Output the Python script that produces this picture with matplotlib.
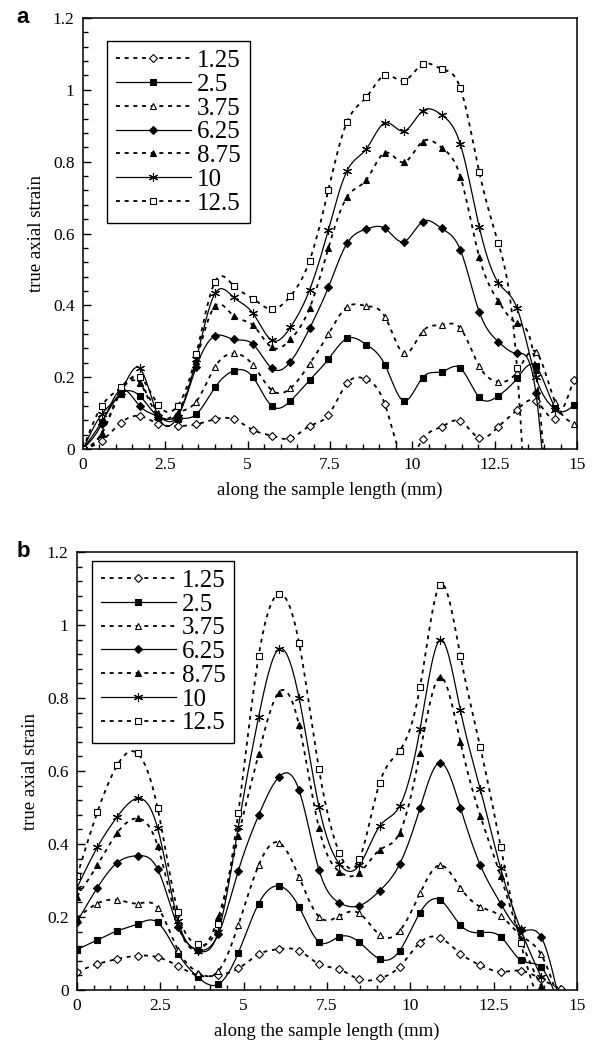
import numpy as np
import matplotlib
matplotlib.use("Agg")
import matplotlib.pyplot as plt
from matplotlib.ticker import MultipleLocator, FormatStrFormatter

plt.rcParams["font.family"] = ["Liberation Serif", "DejaVu Serif"]

labels = ["1.25", "2.5", "3.75", "6.25", "8.75", "10", "12.5"]

# panel a: position along the sample (mm)
x_a = [0.0, 0.57, 1.15, 1.72, 2.29, 2.87, 3.44, 4.01, 4.58, 5.16, 5.73, 6.30, 6.88, 7.45,
       8.02, 8.60, 9.17, 9.74, 10.31, 10.89, 11.46, 12.03, 12.61, 13.18, 13.75, 14.33, 14.90]

a_125 = [0.0, 0.023, 0.073, 0.092, 0.07, 0.064, 0.069, 0.083, 0.083, 0.053, 0.037, 0.03, 0.064, 0.095,
         0.183, 0.194, 0.124, -0.03, 0.027, 0.062, 0.078, 0.031, 0.062, 0.109, 0.134, 0.085, 0.192]
a_25 = [0.0, 0.076, 0.153, 0.148, 0.09, 0.085, 0.097, 0.172, 0.218, 0.2, 0.12, 0.134, 0.192, 0.25,
        0.308, 0.291, 0.234, 0.134, 0.199, 0.215, 0.225, 0.144, 0.148, 0.197, 0.231, 0.118, 0.122]
a_375 = [0.0, 0.045, 0.165, 0.185, 0.09, 0.1, 0.132, 0.229, 0.266, 0.234, 0.164, 0.169, 0.237, 0.32,
         0.396, 0.398, 0.368, 0.266, 0.327, 0.345, 0.336, 0.231, 0.187, 0.215, 0.271, 0.132, 0.071]
a_625 = [0.0, 0.07, 0.165, 0.12, 0.09, 0.09, 0.229, 0.315, 0.305, 0.292, 0.225, 0.243, 0.336, 0.45,
         0.573, 0.612, 0.614, 0.577, 0.633, 0.614, 0.554, 0.382, 0.299, 0.266, 0.157, -0.5]
a_875 = [0.0, 0.042, 0.16, 0.183, 0.1, 0.1, 0.245, 0.398, 0.37, 0.345, 0.283, 0.305, 0.392, 0.559,
         0.702, 0.749, 0.825, 0.798, 0.856, 0.839, 0.758, 0.535, 0.412, 0.35, 0.22, -0.5]
a_10 = [0.0, 0.097, 0.16, 0.225, 0.09, 0.09, 0.25, 0.433, 0.422, 0.378, 0.303, 0.339, 0.443, 0.61,
        0.775, 0.835, 0.908, 0.885, 0.941, 0.93, 0.848, 0.619, 0.463, 0.392, 0.2, 0.11]
a_125b = [0.0, 0.12, 0.172, 0.201, 0.122, 0.12, 0.264, 0.466, 0.454, 0.419, 0.389, 0.426, 0.524, 0.721,
          0.911, 0.979, 1.041, 1.025, 1.071, 1.058, 1.004, 0.772, 0.573, 0.225, -0.8]

# panel b
x_b = [0.0, 0.61, 1.21, 1.82, 2.42, 3.03, 3.63, 4.24, 4.84, 5.45, 6.05, 6.66, 7.26, 7.87,
       8.47, 9.08, 9.68, 10.29, 10.89, 11.50, 12.10, 12.71, 13.31, 13.92, 14.52]

b_125 = [0.05, 0.071, 0.085, 0.094, 0.09, 0.066, 0.04, 0.041, 0.059, 0.098, 0.112, 0.108, 0.071,
         0.057, 0.029, 0.032, 0.064, 0.13, 0.143, 0.1, 0.068, 0.05, 0.053, 0.03, 0.002]
b_25 = [0.111, 0.137, 0.162, 0.181, 0.185, 0.1, 0.035, 0.016, 0.102, 0.237, 0.285, 0.228, 0.132,
        0.146, 0.131, 0.085, 0.108, 0.212, 0.247, 0.178, 0.157, 0.146, 0.082, 0.062, -0.05]
b_375 = [0.197, 0.237, 0.247, 0.237, 0.226, 0.11, 0.048, 0.052, 0.178, 0.342, 0.404, 0.31, 0.201,
         0.203, 0.21, 0.151, 0.162, 0.265, 0.342, 0.28, 0.228, 0.203, 0.15, 0.098, -0.05]
b_625 = [0.187, 0.28, 0.349, 0.368, 0.331, 0.173, 0.11, 0.153, 0.327, 0.479, 0.583, 0.548, 0.329,
         0.239, 0.231, 0.272, 0.345, 0.498, 0.623, 0.5, 0.342, 0.237, 0.165, 0.146, -0.05]
b_875 = [0.256, 0.342, 0.431, 0.47, 0.395, 0.18, 0.11, 0.199, 0.422, 0.647, 0.815, 0.726, 0.443,
         0.324, 0.321, 0.384, 0.431, 0.65, 0.857, 0.68, 0.477, 0.312, 0.14, 0.011]
b_10 = [0.28, 0.391, 0.475, 0.525, 0.443, 0.19, 0.108, 0.16, 0.447, 0.749, 0.934, 0.801, 0.502,
        0.345, 0.342, 0.449, 0.504, 0.714, 0.959, 0.767, 0.55, 0.333, 0.166, 0.036]
b_125b = [0.312, 0.487, 0.616, 0.648, 0.498, 0.213, 0.125, 0.18, 0.486, 0.915, 1.085, 0.952, 0.605,
          0.376, 0.358, 0.568, 0.656, 0.829, 1.11, 0.916, 0.665, 0.393, 0.13, -0.05]

DOT = (0, (2.2, 2.6))
styles = [
    dict(ls=DOT, marker="D", ms=3.6, mfc="white"),
    dict(ls="-", marker="s", ms=4.6, mfc="black"),
    dict(ls=DOT, marker="^", ms=5, mfc="white"),
    dict(ls="-", marker="D", ms=3.8, mfc="black"),
    dict(ls=DOT, marker="^", ms=5, mfc="black"),
    dict(ls="-", marker=(6, 2, 0), ms=6.5, mfc="black"),
    dict(ls=DOT, marker="s", ms=4.6, mfc="white"),
]


def spline(x, y, n=16):
    # natural cubic spline used only to draw the smooth curve through the points
    x = np.asarray(x, float)
    y = np.asarray(y, float)
    k = len(x)
    h = np.diff(x)
    A = np.zeros((k, k))
    r = np.zeros(k)
    A[0, 0] = A[-1, -1] = 1
    for i in range(1, k - 1):
        A[i, i - 1] = h[i - 1]
        A[i, i] = 2 * (h[i - 1] + h[i])
        A[i, i + 1] = h[i]
        r[i] = 3 * ((y[i + 1] - y[i]) / h[i] - (y[i] - y[i - 1]) / h[i - 1])
    c = np.linalg.solve(A, r)
    b = (y[1:] - y[:-1]) / h - h * (2 * c[:-1] + c[1:]) / 3
    d = (c[1:] - c[:-1]) / (3 * h)
    xs, ys = [], []
    for i in range(k - 1):
        t = np.linspace(0, h[i], n, endpoint=False)
        xs.append(x[i] + t)
        ys.append(y[i] + b[i] * t + c[i] * t ** 2 + d[i] * t ** 3)
    xs.append([x[-1]])
    ys.append([y[-1]])
    return np.concatenate(xs), np.concatenate(ys)


def draw_panel(ax, x, series, legend_box):
    for vals, lab, st in zip(series, labels, styles):
        xv = x[:len(vals)]
        sx, sy = spline(xv, vals)
        lw = 1.3 if st["ls"] != "-" else 0.9
        ax.plot(sx, sy, color="black", ls=st["ls"], lw=lw)
        ax.plot(xv, vals, ls="none", marker=st["marker"], ms=st["ms"], mfc=st["mfc"],
                mec="black", mew=0.8, color="black")
        # legend proxy
        ax.plot([], [], color="black", ls=st["ls"], lw=lw, marker=st["marker"], ms=st["ms"],
                mfc=st["mfc"], mec="black", mew=0.8, label=lab)
    ax.set_xlim(0, 15)
    ax.set_ylim(0, 1.2)
    ax.xaxis.set_major_locator(MultipleLocator(2.5))
    ax.xaxis.set_minor_locator(MultipleLocator(0.5))
    ax.yaxis.set_major_locator(MultipleLocator(0.2))
    ax.yaxis.set_minor_locator(MultipleLocator(0.04))
    ax.xaxis.set_major_formatter(FormatStrFormatter("%g"))
    ax.yaxis.set_major_formatter(FormatStrFormatter("%g"))
    ax.tick_params(which="both", direction="in", labelsize=12.5, width=1)
    ax.tick_params(which="major", length=6, pad=6)
    ax.tick_params(which="minor", length=3.5)
    for sp in ax.spines.values():
        sp.set_linewidth(1.1)
    ax.set_xlabel("along the sample length (mm)", fontsize=13.5, labelpad=6)
    ax.set_ylabel("true axial strain", fontsize=13.5, labelpad=6)
    leg = ax.legend(loc="upper left", bbox_to_anchor=legend_box, fontsize=18, numpoints=1,
                    handlelength=3.0, handletextpad=0.25, labelspacing=0.05, borderpad=0.35,
                    fancybox=False, framealpha=1, borderaxespad=0)
    leg.get_frame().set_edgecolor("black")
    leg.get_frame().set_linewidth(1.0)


fig = plt.figure(figsize=(5.94, 10.45), dpi=100)
ax_a = fig.add_axes([0.1397, 0.5703, 0.8317, 0.4125])
ax_b = fig.add_axes([0.1296, 0.0526, 0.8418, 0.4192])

draw_panel(ax_a, x_a, [a_125, a_25, a_375, a_625, a_875, a_10, a_125b], (0.049, 0.947))
draw_panel(ax_b, x_b, [b_125, b_25, b_375, b_625, b_875, b_10, b_125b], (0.03, 0.98))

fig.text(0.028, 0.983, "a", fontsize=16, fontweight="bold", family="Liberation Sans",
         ha="left", va="center")
fig.text(0.028, 0.472, "b", fontsize=16, fontweight="bold", family="Liberation Sans",
         ha="left", va="center")

fig.savefig("out.png", dpi=100)
